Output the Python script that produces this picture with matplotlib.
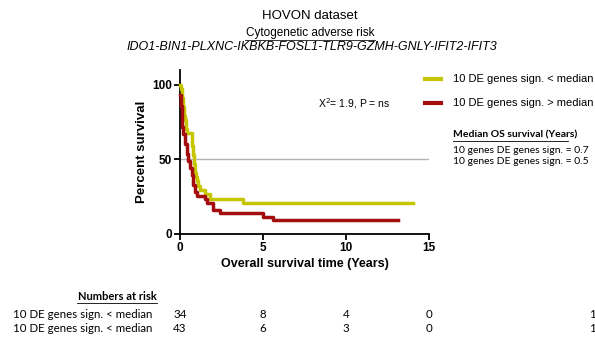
import matplotlib
matplotlib.use('Agg')
import matplotlib.pyplot as plt

# Kaplan-Meier step data (years, percent survival)
low_t = [0, 0.05, 0.1, 0.15, 0.2, 0.25, 0.3, 0.35, 0.4, 0.7, 0.75, 0.8, 0.85,
         0.9, 0.95, 1.0, 1.1, 1.2, 1.5, 1.8, 3.8, 14.06]
low_s = [100, 97.1, 94.1, 91.2, 85.3, 79.4, 76.5, 70.6, 67.6, 64.7, 58.8, 52.9,
         47.1, 41.2, 38.2, 35.3, 32.4, 29.4, 26.5, 23.5, 20.6, 20.6]

high_t = [0, 0.05, 0.1, 0.15, 0.2, 0.3, 0.4, 0.5, 0.6, 0.7, 0.8, 0.9, 1.0,
          1.5, 1.6, 2.0, 2.4, 5.0, 5.6, 13.15]
high_s = [93, 86, 79.1, 72.1, 67.4, 60.5, 53.5, 48.8, 44.2, 39.5, 32.6, 27.9,
          25.6, 23.3, 20.9, 16.3, 14.0, 11.6, 9.3, 9.3]

group_labels = ['10 DE genes sign. < median', '10 DE genes sign. > median']
risk_labels = ['10 DE genes sign. < median', '10 DE genes sign. < median']
risk_times = [0, 5, 10, 15]
risk_low = [34, 8, 4, 0]
risk_high = [43, 6, 3, 0]
median_lines = ['10 genes DE genes sign. = 0.7', '10 genes DE genes sign. = 0.5']

YELLOW = '#c6c600'
RED = '#a30d0d'
W, H = 595, 340

fig = plt.figure(figsize=(W / 100, H / 100), dpi=100)
fig.patch.set_facecolor('white')


def px(x, y):
    return x / W, 1 - y / H


ax = fig.add_axes([180 / W, 1 - 234 / H, 249 / W, 164 / H])
ax.axhline(50, color='#b4b4b4', linewidth=1.0, zorder=1)
ax.step(low_t, low_s, where='post', color=YELLOW, linewidth=2.5, zorder=3,
        clip_on=False)
ax.step(high_t, high_s, where='post', color=RED, linewidth=2.5, zorder=3,
        clip_on=False)

ax.set_xlim(0, 15)
ax.set_ylim(0, 110)
ax.set_xticks([0, 5, 10, 15])
ax.set_yticks([0, 50, 100])
for s in ['top', 'right']:
    ax.spines[s].set_visible(False)
for s in ['left', 'bottom']:
    ax.spines[s].set_linewidth(1.3)
ax.tick_params(direction='out', length=4, width=1.3, pad=2)
for lab in ax.get_xticklabels() + ax.get_yticklabels():
    lab.set_fontfamily('Liberation Sans')
    lab.set_fontweight('bold')
    lab.set_fontsize(8.5)

ax.set_xlabel('Overall survival time (Years)', fontfamily='Liberation Sans',
              fontweight='bold', fontsize=9, labelpad=3)
ax.set_ylabel('Percent survival', fontfamily='Liberation Sans',
              fontweight='bold', fontsize=9.5, labelpad=3)

fig.text(*px(318, 104), 'X$^2$= 1.9, P = ns', fontfamily='Liberation Sans',
         fontsize=7.5, va='center', ha='left')

# titles
fig.text(*px(310, 16), 'HOVON dataset', fontfamily='Liberation Sans',
         fontsize=9.5, ha='center', va='center')
fig.text(*px(310, 33), 'Cytogenetic adverse risk', fontfamily='Liberation Sans',
         fontsize=8.5, ha='center', va='center')
fig.text(*px(312, 47), 'IDO1-BIN1-PLXNC-IKBKB-FOSL1-TLR9-GZMH-GNLY-IFIT2-IFIT3',
         fontfamily='Liberation Sans', style='italic', fontsize=9,
         ha='center', va='center')
# underline for subtitle
fig.add_artist(plt.Line2D([245 / W, 375 / W], [1 - 40 / H, 1 - 40 / H],
                          color='#333333', linewidth=0.7))

# legend
for i, (lab, col) in enumerate(zip(group_labels, [YELLOW, RED])):
    y = 79 + i * 24
    fig.add_artist(plt.Line2D([425 / W, 441 / W], [1 - y / H, 1 - y / H],
                              color=col, linewidth=3))
    fig.text(*px(453, y), lab, fontfamily='Liberation Sans', fontsize=8,
             va='center', ha='left')

fig.text(*px(453, 135), 'Median OS survival (Years)', fontfamily='Lato',
         fontweight='bold', fontsize=7.5, va='center', ha='left')
fig.add_artist(plt.Line2D([453 / W, 568 / W], [1 - 140.5 / H, 1 - 140.5 / H],
                          color='black', linewidth=0.6))
for i, t in enumerate(median_lines):
    fig.text(*px(453, 150.5 + i * 10.5), t, fontfamily='Lato', fontsize=7.5,
             va='center', ha='left')

# numbers at risk table
fig.text(*px(117, 297), 'Numbers at risk', fontfamily='Lato', fontweight='bold',
         fontsize=8, va='center', ha='center')
fig.add_artist(plt.Line2D([77 / W, 157 / W], [1 - 303 / H, 1 - 303 / H],
                          color='black', linewidth=0.6))
ax_x0 = 180
ax_w = 249
for row, (lab, vals) in enumerate(zip(risk_labels, [risk_low, risk_high])):
    y = 315 + row * 14
    fig.text(*px(13, y), lab, fontfamily='Lato', fontsize=8.3, va='center',
             ha='left')
    for t, v in zip(risk_times, vals):
        x = ax_x0 + ax_w * t / 15
        fig.text(*px(x, y), str(v), fontfamily='Lato', fontsize=8.3,
                 va='center', ha='center')
    fig.text(*px(589, y), '10', fontfamily='Lato', fontsize=8.3, va='center',
             ha='left')

fig.savefig('out.png', dpi=100, facecolor='white')
